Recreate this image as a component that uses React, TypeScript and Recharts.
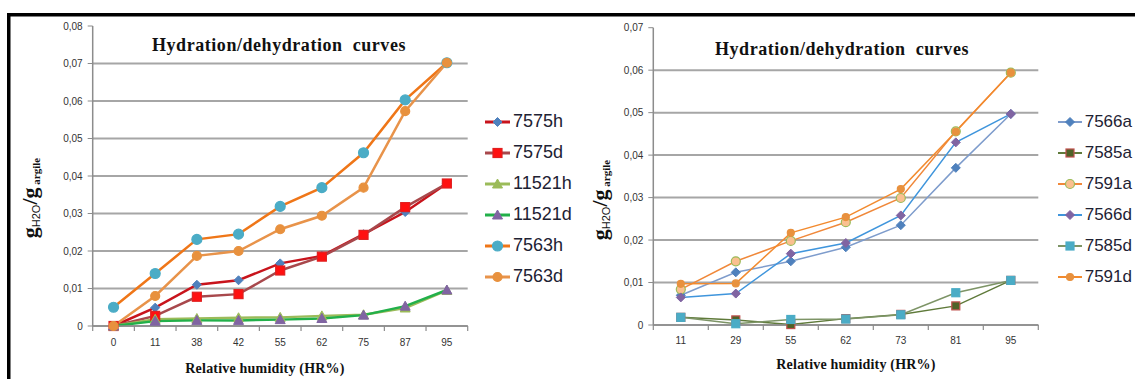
import React from "react";
import { LineChart, Line, XAxis, YAxis, CartesianGrid, Legend } from "recharts";

// left panel: relative humidity categories and sorption values
const leftHumidity = ["0", "11", "38", "42", "55", "62", "75", "87", "95"];
const v7575h = [0, 0.0049, 0.011, 0.0122, 0.0167, 0.0187, 0.0245, 0.0304, 0.038];
const v7575d = [0, 0.0027, 0.0078, 0.0085, 0.0148, 0.0185, 0.0243, 0.0317, 0.038];
const v11521h = [0, 0.0018, 0.002, 0.0022, 0.0023, 0.0027, 0.003, 0.0048, 0.0095];
const v11521d = [0, 0.0013, 0.0015, 0.0015, 0.0017, 0.002, 0.0029, 0.0053, 0.0096];
const v7563h = [0.005, 0.014, 0.0231, 0.0245, 0.0319, 0.0369, 0.0462, 0.0603, 0.0702];
const v7563d = [0, 0.008, 0.0187, 0.02, 0.0258, 0.0294, 0.0369, 0.0573, 0.0702];
const leftTicks = [0, 0.01, 0.02, 0.03, 0.04, 0.05, 0.06, 0.07, 0.08];

// right panel
const rightHumidity = ["11", "29", "55", "62", "73", "81", "95"];
const v7566a = [0.007, 0.0124, 0.015, 0.0183, 0.0235, 0.037, 0.0497];
const v7585a = [0.0018, 0.0012, 0.0001, 0.0015, 0.0025, 0.0045, 0.0105];
const v7591a = [0.0084, 0.015, 0.0198, 0.0242, 0.0299, 0.0456, 0.0594];
const v7566d = [0.0065, 0.0074, 0.0168, 0.0193, 0.0258, 0.043, 0.0497];
const v7585d = [0.0018, 0.0003, 0.0013, 0.0014, 0.0024, 0.0076, 0.0105];
const v7591d = [0.0097, 0.0098, 0.0217, 0.0254, 0.032, 0.0455, 0.0594];
const rightTicks = [0, 0.01, 0.02, 0.03, 0.04, 0.05, 0.06, 0.07];

type Shape = "diamond" | "square" | "triangle" | "circle";
interface Series {
  name: string;
  values: number[];
  line: string;
  width: number;
  shape: Shape;
  fill: string;
  stroke: string;
  size: number;
}

const leftSeries: Series[] = [
  { name: "7575h", values: v7575h, line: "#c8141c", width: 2.5, shape: "diamond", fill: "#4f81bd", stroke: "#4f81bd", size: 4.5 },
  { name: "7575d", values: v7575d, line: "#a8484c", width: 2.5, shape: "square", fill: "#ff1010", stroke: "#e02020", size: 4.5 },
  { name: "11521h", values: v11521h, line: "#9bbb59", width: 2.5, shape: "triangle", fill: "#9bbb59", stroke: "#9bbb59", size: 5 },
  { name: "11521d", values: v11521d, line: "#22b04a", width: 2.5, shape: "triangle", fill: "#8064a2", stroke: "#8064a2", size: 5 },
  { name: "7563h", values: v7563h, line: "#ef7618", width: 2.5, shape: "circle", fill: "#4bacc6", stroke: "#4bacc6", size: 5 },
  { name: "7563d", values: v7563d, line: "#e8934a", width: 2.5, shape: "circle", fill: "#e8913e", stroke: "#e8913e", size: 4.5 },
];

const rightSeries: Series[] = [
  { name: "7566a", values: v7566a, line: "#7e9ccc", width: 1.5, shape: "diamond", fill: "#4f81bd", stroke: "#4f81bd", size: 4.5 },
  { name: "7585a", values: v7585a, line: "#5f7a3a", width: 1.5, shape: "square", fill: "#4f6228", stroke: "#c0504d", size: 4 },
  { name: "7591a", values: v7591a, line: "#f0883a", width: 1.5, shape: "circle", fill: "#fac090", stroke: "#9bbb59", size: 4.5 },
  { name: "7566d", values: v7566d, line: "#3f95dc", width: 1.5, shape: "diamond", fill: "#8064a2", stroke: "#8064a2", size: 4.5 },
  { name: "7585d", values: v7585d, line: "#7d9466", width: 1.5, shape: "square", fill: "#4bacc6", stroke: "#4bacc6", size: 4 },
  { name: "7591d", values: v7591d, line: "#f28a2e", width: 1.5, shape: "circle", fill: "#e8913e", stroke: "#e8913e", size: 3.5 },
];

function Marker({ cx, cy, s }: { cx?: number; cy?: number; s: Series }) {
  if (cx == null || cy == null) return null;
  const r = s.size;
  if (s.shape === "diamond") {
    return <polygon points={`${cx},${cy - r} ${cx + r},${cy} ${cx},${cy + r} ${cx - r},${cy}`} fill={s.fill} stroke={s.stroke} />;
  }
  if (s.shape === "square") {
    return <rect x={cx - r} y={cy - r} width={r * 2} height={r * 2} fill={s.fill} stroke={s.stroke} strokeWidth={1.2} />;
  }
  if (s.shape === "triangle") {
    return <polygon points={`${cx},${cy - r} ${cx + r},${cy + r * 0.8} ${cx - r},${cy + r * 0.8}`} fill={s.fill} stroke={s.stroke} />;
  }
  return <circle cx={cx} cy={cy} r={r} fill={s.fill} stroke={s.stroke} strokeWidth={1.2} />;
}

const fmt = (v: number) => (v === 0 ? "0" : v.toFixed(2).replace(".", ","));

function LegendList({ series, fontSize, lineLen }: { series: Series[]; fontSize: number; lineLen: number }) {
  return (
    <div>
      {series.map((s) => (
        <div key={s.name} style={{ display: "flex", alignItems: "center", height: 31 }}>
          <svg width={lineLen} height={16} style={{ flexShrink: 0 }}>
            <line x1={0} x2={lineLen} y1={8} y2={8} stroke={s.line} strokeWidth={s.width + 0.5} />
            <Marker cx={lineLen / 2} cy={8} s={s} />
          </svg>
          <span style={{ marginLeft: 3, fontFamily: "'Liberation Sans', sans-serif", fontSize, color: "#1e2233", whiteSpace: "nowrap" }}>
            {s.name}
          </span>
        </div>
      ))}
    </div>
  );
}

function Panel({
  labels, series, ticks, width, height, margin, yWidth, legendLeft, legendFont, legendLine, labelDy,
}: {
  labels: string[]; series: Series[]; ticks: number[]; width: number; height: number;
  margin: { top: number; right: number; left: number; bottom: number };
  yWidth: number; legendLeft: number; legendFont: number; legendLine: number; labelDy: number;
}) {
  const data = labels.map((hr, i) => {
    const row: Record<string, number | string> = { pos: i + 0.5, hr };
    series.forEach((s) => { row[s.name] = s.values[i]; });
    return row;
  });
  // category boundaries carry the tick marks, category centres carry the labels
  const xTicks: number[] = [];
  for (let i = 0; i <= labels.length; i++) {
    xTicks.push(i);
    if (i < labels.length) xTicks.push(i + 0.5);
  }
  const xTick = (p: any) => {
    const v = p.payload.value;
    if (Number.isInteger(v)) {
      return <line key={p.index} x1={p.x} x2={p.x} y1={p.y} y2={p.y + 5} stroke="#8c8c8c" strokeWidth={1.2} />;
    }
    return (
      <text key={p.index} x={p.x} y={p.y + labelDy} textAnchor="middle" fontSize={10} fontFamily="'Liberation Sans', sans-serif" fill="#333">
        {labels[Math.floor(v)]}
      </text>
    );
  };

  return (
    <LineChart width={width} height={height} data={data} margin={margin}>
      <CartesianGrid vertical={false} horizontalValues={ticks.slice(0, -1)} stroke="#a6a6a6" strokeWidth={2} />
      <XAxis
        dataKey="pos" type="number" domain={[0, labels.length]} ticks={xTicks} interval={0}
        tick={xTick} tickLine={false} tickSize={0} tickMargin={0} height={30}
        axisLine={{ stroke: "#8c8c8c", strokeWidth: 1.5 }}
      />
      <YAxis
        type="number" domain={[0, ticks[ticks.length - 1]]} ticks={ticks} interval={0} width={yWidth}
        tickFormatter={fmt} tickSize={5} tickMargin={5}
        tick={{ fontSize: 10, fill: "#333", fontFamily: "'Liberation Sans', sans-serif" }}
        tickLine={{ stroke: "#8c8c8c" }} axisLine={{ stroke: "#8c8c8c", strokeWidth: 1.5 }}
      />
      <Legend
        layout="vertical" align="center" verticalAlign="middle"
        wrapperStyle={{ left: legendLeft, top: 106, width: 110 }}
        content={() => <LegendList series={series} fontSize={legendFont} lineLen={legendLine} />}
      />
      {series.map((s) => (
        <Line
          key={s.name} dataKey={s.name} type="linear" stroke={s.line} strokeWidth={s.width}
          isAnimationActive={false} activeDot={false}
          dot={(p: any) => <Marker key={`${s.name}-${p.index}`} cx={p.cx} cy={p.cy} s={s} />}
        />
      ))}
    </LineChart>
  );
}

function YTitle({ x, y }: { x: number; y: number }) {
  return (
    <text transform={`translate(${x},${y}) rotate(-90)`} textAnchor="middle" fontFamily="'Liberation Serif', serif" fontWeight="bold" fill="#111">
      <tspan fontSize={22}>g</tspan>
      <tspan fontSize={11} fontFamily="'Liberation Sans', sans-serif" fontWeight="normal" dy={3}>H2O</tspan>
      <tspan fontSize={22} dy={-3}>/g</tspan>
      <tspan fontSize={11} dy={3}>{" argile"}</tspan>
    </text>
  );
}

const serif = "'Liberation Serif', 'Times New Roman', serif";

export default function App() {
  return (
    <div style={{ position: "absolute", left: 0, top: 0, width: 1135, height: 379, background: "#fff", overflow: "hidden" }}>
      <div style={{ position: "absolute", left: 0, top: 0 }}>
        <Panel
          labels={leftHumidity} series={leftSeries} ticks={leftTicks} width={570} height={379}
          margin={{ top: 26, right: 102.3, left: 0, bottom: 23 }} yWidth={92.7}
          legendLeft={485} legendFont={18} legendLine={25} labelDy={20}
        />
      </div>
      <div style={{ position: "absolute", left: 565, top: 0 }}>
        <Panel
          labels={rightHumidity} series={rightSeries} ticks={rightTicks} width={570} height={379}
          margin={{ top: 27.7, right: 96.7, left: 0, bottom: 24 }} yWidth={88.3}
          legendLeft={492.7} legendFont={17} legendLine={24} labelDy={19}
        />
      </div>
      <svg width={1135} height={379} style={{ position: "absolute", left: 0, top: 0, pointerEvents: "none" }}>
        <rect x={7} y={13} width={1128} height={3.5} fill="#000" />
        <rect x={7} y={13} width={3.5} height={366} fill="#000" />
        <text x={279} y={51} textAnchor="middle" fontFamily={serif} fontWeight="bold" fontSize={18} letterSpacing={0.55} fill="#111" style={{ whiteSpace: "pre" }}>
          Hydration/dehydration  curves
        </text>
        <text x={842} y={55} textAnchor="middle" fontFamily={serif} fontWeight="bold" fontSize={18} letterSpacing={0.55} fill="#111" style={{ whiteSpace: "pre" }}>
          Hydration/dehydration  curves
        </text>
        <text x={265} y={373} textAnchor="middle" fontFamily={serif} fontWeight="bold" fontSize={14} letterSpacing={0.2} fill="#111">
          Relative humidity (HR%)
        </text>
        <text x={856} y={369} textAnchor="middle" fontFamily={serif} fontWeight="bold" fontSize={14} letterSpacing={0.2} fill="#111">
          Relative humidity (HR%)
        </text>
        <YTitle x={37} y={198} />
        <YTitle x={607} y={200} />
      </svg>
    </div>
  );
}
